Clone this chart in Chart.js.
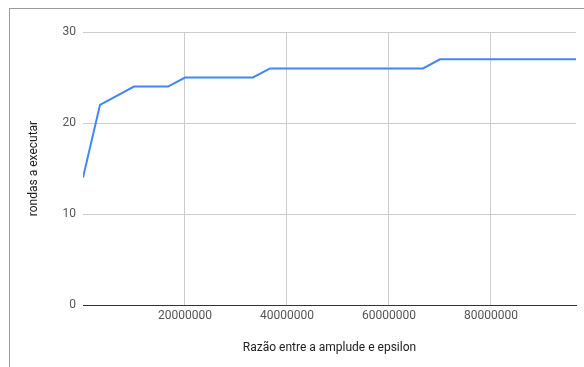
<!DOCTYPE html>
<html>
<head>
<meta charset="utf-8">
<script src="https://cdn.jsdelivr.net/npm/chart.js@4/dist/chart.umd.min.js"></script>
<style>
  html, body { margin: 0; padding: 0; background: #fff; }
  #wrap { position: relative; width: 584px; height: 367px; overflow: hidden; }
  #frame { position: absolute; left: 9px; top: 8px; width: 600px; height: 400px;
           border-left: 1px solid #9a9a9a; border-top: 1px solid #9a9a9a; }
  canvas { position: absolute; left: 0; top: 0; }
</style>
</head>
<body>
<div id="wrap">
  <div id="frame"></div>
  <canvas id="c" width="584" height="367"></canvas>
</div>
<script>
// Ratio between amplitude and epsilon vs. rounds to execute
const ratios = [0, 3333333, 10000000, 16666667, 20000000, 33333333, 36666667, 66666667, 70000000, 96666667];
const rounds = [14, 22, 24, 24, 25, 25, 26, 26, 27, 27];
const yTicks = [0, 10, 20, 30];
const xTicks = [0, 20000000, 40000000, 60000000, 80000000];
const xTitle = 'Razão entre a amplude e epsilon';
const yTitle = 'rondas a executar';

const points = ratios.map((r, i) => ({ x: r, y: rounds[i] }));

Chart.defaults.font.family = 'Roboto, "Liberation Sans", Arial, sans-serif';
Chart.defaults.font.size = 12;

new Chart(document.getElementById('c'), {
  type: 'line',
  data: {
    datasets: [{
      data: points,
      borderColor: '#4285f4',
      borderWidth: 2,
      pointRadius: 0,
      tension: 0,
      fill: false
    }]
  },
  options: {
    responsive: false,
    animation: false,
    layout: { padding: { left: 0, top: 32, right: 8, bottom: 0 } },
    plugins: { legend: { display: false }, tooltip: { enabled: false } },
    scales: {
      x: {
        type: 'linear',
        min: 0,
        max: ratios[ratios.length - 1],
        afterFit: s => { s.height = 62; },
        afterBuildTicks: s => { s.ticks = xTicks.map(v => ({ value: v })); },
        border: { display: true, color: '#333333', width: 1 },
        grid: {
          drawTicks: false,
          color: ctx => (ctx.tick && ctx.tick.value === 0) ? 'rgba(0,0,0,0)' : '#cccccc'
        },
        ticks: {
          padding: 4,
          color: '#555555',
          maxRotation: 0,
          autoSkip: false,
          callback: v => (v === 0 ? '' : String(v))
        },
        title: {
          display: true,
          text: xTitle,
          color: '#222222',
          font: { size: 12 },
          padding: { top: 0, bottom: 12 }
        }
      },
      y: {
        min: 0,
        max: 30,
        afterFit: s => { s.width = 83; },
        afterBuildTicks: s => { s.ticks = yTicks.map(v => ({ value: v })); },
        border: { display: false },
        grid: { drawTicks: false, color: '#cccccc' },
        ticks: { padding: 7, color: '#555555' },
        title: {
          display: true,
          text: yTitle,
          color: '#222222',
          font: { size: 12 },
          padding: { top: 27, bottom: 0 }
        }
      }
    }
  }
});
</script>
</body>
</html>
